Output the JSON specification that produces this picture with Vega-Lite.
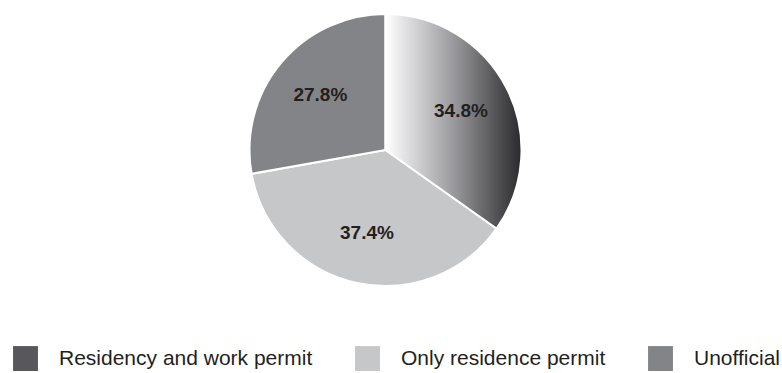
{
  "$schema": "https://vega.github.io/schema/vega-lite/v6.json",
  "width": 745,
  "height": 300,
  "autosize": {"type": "pad"},
  "padding": {"top": 0, "bottom": 0, "left": 13, "right": 0},
  "background": "white",
  "config": {"view": {"stroke": null}, "font": "Liberation Sans"},
  "data": {
    "values": [
      {"category": "Residency and work permit", "share": 34.8, "label": "34.8%", "order": 1},
      {"category": "Only residence permit", "share": 37.4, "label": "37.4%", "order": 2},
      {"category": "Unofficial", "share": 27.8, "label": "27.8%", "order": 3}
    ]
  },
  "encoding": {
    "theta": {"field": "share", "type": "quantitative", "stack": true},
    "order": {"field": "order", "type": "quantitative"}
  },
  "layer": [
    {
      "mark": {"type": "arc", "radius": 136, "stroke": "white", "strokeWidth": 2},
      "encoding": {
        "color": {
          "field": "category",
          "type": "nominal",
          "scale": {
            "domain": ["Residency and work permit", "Only residence permit", "Unofficial"],
            "range": ["#58585c", "#c6c7c9", "#838487"]
          },
          "legend": {
            "orient": "bottom",
            "direction": "horizontal",
            "title": null,
            "symbolType": "square",
            "symbolSize": 620,
            "symbolStrokeWidth": 0,
            "symbolOpacity": 1,
            "labelFontSize": 21,
            "labelColor": "#231f20",
            "labelOffset": 21,
            "columnPadding": 42,
            "offset": 46,
            "labelLimit": 400,
            "encoding": {
              "symbols": {
                "update": {
                  "fill": [
                    {"test": "datum.label === 'Residency and work permit'", "value": {"gradient": "linear", "x1": 0, "x2": 1, "y1": 0, "y2": 0, "stops": [{"offset": 0, "color": "#ffffff"}, {"offset": 1, "color": "#2a2a2c"}]}},
                    {"scale": "color", "field": "value"}
                  ]
                }
              }
            }
          }
        }
      }
    },
    {
      "mark": {
        "type": "arc",
        "radius": 136,
        "stroke": "white",
        "strokeWidth": 2,
        "fill": {"gradient": "linear", "x1": 0, "x2": 1, "y1": 0, "y2": 0, "stops": [{"offset": 0, "color": "#ffffff"}, {"offset": 0.5, "color": "#9a9a9e"}, {"offset": 1, "color": "#2a2a2c"}]}
      },
      "encoding": {
        "opacity": {"condition": {"test": "datum.order === 1", "value": 1}, "value": 0}
      }
    },
    {
      "mark": {"type": "text", "radius": 85, "fontSize": 19, "fontWeight": "bold", "fill": "#231f20"},
      "encoding": {"text": {"field": "label", "type": "nominal"}}
    }
  ]
}
